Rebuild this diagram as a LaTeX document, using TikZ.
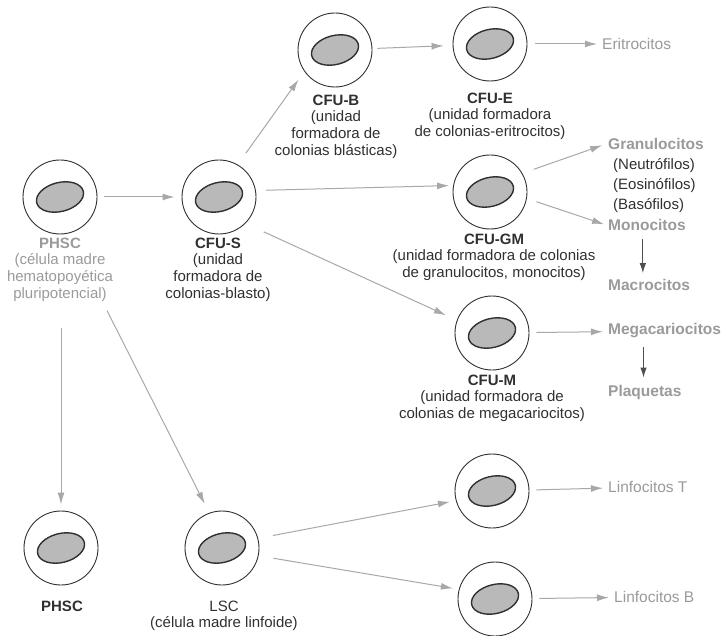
\documentclass[tikz,border=0pt]{standalone}
\usepackage{fontspec}
\setmainfont{Liberation Sans}
\usetikzlibrary{arrows.meta, calc}
\definecolor{linkgray}{HTML}{A8A8A8}
\definecolor{labelgray}{HTML}{9A9A9A}
\definecolor{inkgray}{HTML}{303030}
\definecolor{nucfill}{HTML}{B9B9B9}
\newcommand\colx{490}
\newcommand\outx{606}

\begin{document}
\begin{tikzpicture}[x=1pt, y=-1pt,
    cell/.style={circle, draw=inkgray, line width=0.9pt, minimum size=74pt, inner sep=0pt,
        path picture={\filldraw[fill=nucfill, draw=inkgray, line width=1.4pt]
            (path picture bounding box.center) ellipse [x radius=24pt, y radius=14.5pt, rotate=14];}},
    lbl/.style={align=center, inner sep=0pt, anchor=north, text=inkgray, font=\fontsize{15}{16.7}\selectfont},
    prod/.style={anchor=west, inner sep=2pt, text=labelgray, font=\fontsize{15.5}{17}\selectfont\bfseries},
    sub/.style={anchor=west, inner sep=2pt, text=inkgray, font=\fontsize{15}{17}\selectfont},
    flow/.style={draw=linkgray, line width=1pt, -{Latex[length=12pt, width=7pt]}, shorten >=7pt, shorten <=7pt},
    descend/.style={draw=inkgray!85, line width=1.1pt, -{Latex[length=10pt, width=6.5pt]}}]

    \useasboundingbox (0,0) rectangle (725,636);

    % Stem cells
    \node at (60, 197) [cell] (phsc) {};
    \node at (60, 237.6) [lbl, text=labelgray] (phscLbl) {\textbf{PHSC}\\(célula madre\\hematopoyética\\pluripotencial)};
    \node at (219, 197) [cell] (cfus) {};
    \node at (218, 237.6) [lbl] (cfusLbl) {\textbf{CFU-S}\\(unidad\\formadora de\\colonias-blasto)};

    % Erythroid line
    \node at (335, 50) [cell] (cfub) {};
    \node at (336, 94.6) [lbl] (cfubLbl) {\textbf{CFU-B}\\(unidad\\formadora de\\colonias blásticas)};
    \node at (\colx, 44) [cell] (cfue) {};
    \node at (\colx, 92.6) [lbl] (cfueLbl) {\textbf{CFU-E}\\(unidad formadora\\de colonias-eritrocitos)};
    \node at (600, 44) [prod, font=\fontsize{15.5}{17}\selectfont] (eritro) {Eritrocitos};

    \draw[flow] (phsc) -- (cfus);
    \draw[flow, shorten <=14pt, shorten >=10pt] (cfus.60) -- (cfub.215);
    \draw[flow, shorten <=5pt, shorten >=9pt] (cfub) -- (cfue);
    \draw[flow, shorten <=8pt, shorten >=3pt] (cfue) -- (eritro);

    % Granulocytes and monocytes
    \node at (\colx, 192) [cell] (cfugm) {};
    \node at (494, 233.6) [lbl] (cfugmLbl) {\textbf{CFU-GM}\\(unidad formadora de colonias\\de granulocitos, monocitos)};
    \node at (\outx, 144) [prod] (granulo) {Granulocitos};
    \node at (611, 166) [sub] (neutro) {(Neutrófilos)};
    \node at (611, 186) [sub] (eosino) {(Eosinófilos)};
    \node at (611, 206) [sub] (baso) {(Basófilos)};
    \node at (\outx, 225) [prod] (mono) {Monocitos};
    \node at (\outx, 285) [prod] (macro) {Macrocitos};
    \coordinate (monoFoot) at ($(mono.south west)!0.45!(mono.south east)$);

    \draw[flow, shorten <=10pt, shorten >=4pt] (cfus.10) -- (cfugm.170);
    \draw[flow, shorten <=12pt, shorten >=4pt] (cfugm.30) -- (granulo.west);
    \draw[flow, shorten <=10pt, shorten >=2pt] (cfugm.-10) -- (mono.west);
    \draw[descend, shorten <=6pt, shorten >=4pt] (monoFoot) -- (monoFoot |- macro.north);

    % Megakaryocytes
    \node at (492, 333) [cell] (cfum) {};
    \node at (492, 374.6) [lbl] (cfumLbl) {\textbf{CFU-M}\\(unidad formadora de\\colonias de megacariocitos)};
    \node at (\outx, 331) [prod] (megac) {Megacariocitos};
    \node at (\outx, 392) [prod] (plaq) {Plaquetas};
    \coordinate (megacFoot) at ($(megac.south west)!0.32!(megac.south east)$);

    \draw[flow, shorten <=20pt, shorten >=12pt] (cfus.-45) -- (cfum.160);
    \draw[flow, shorten >=3pt] (cfum) -- (megac);
    \draw[descend, shorten <=7pt, shorten >=5pt] (megacFoot) -- (megacFoot |- plaq.north);

    % Lymphoid line
    \node at (61, 548) [cell] (phscb) {};
    \node at (62, 600.6) [lbl, font=\fontsize{15}{16.7}\selectfont\bfseries] (phscbLbl) {PHSC};
    \node at (222, 548) [cell] (lsc) {};
    \node at (224, 600.6) [lbl] (lscLbl) {LSC\\(célula madre linfoide)};
    \node at (492, 491) [cell] (lint) {};
    \node at (495, 599) [cell] (linb) {};
    \node at (\outx, 487) [prod, font=\fontsize{15.5}{17}\selectfont] (ltT) {Linfocitos T};
    \node at (612, 597) [prod, font=\fontsize{15.5}{17}\selectfont] (ltB) {Linfocitos B};
    \coordinate (phscOut) at ($(phscLbl.south)!0.8!(phscLbl.south east)$);

    \draw[flow, shorten <=26pt, shorten >=6pt] (phscLbl.south -| phscb) -- (phscb);
    \draw[flow, shorten <=10pt, shorten >=10pt] (phscOut) -- (lsc.110);
    \draw[flow, shorten <=15pt, shorten >=6pt] (lsc.15) -- (lint.195);
    \draw[flow, shorten <=15pt, shorten >=6pt] (lsc.-12) -- (linb.165);
    \draw[flow, shorten >=3pt] (lint) -- (ltT);
    \draw[flow, shorten >=3pt] (linb) -- (ltB);

\end{tikzpicture}
\end{document}
